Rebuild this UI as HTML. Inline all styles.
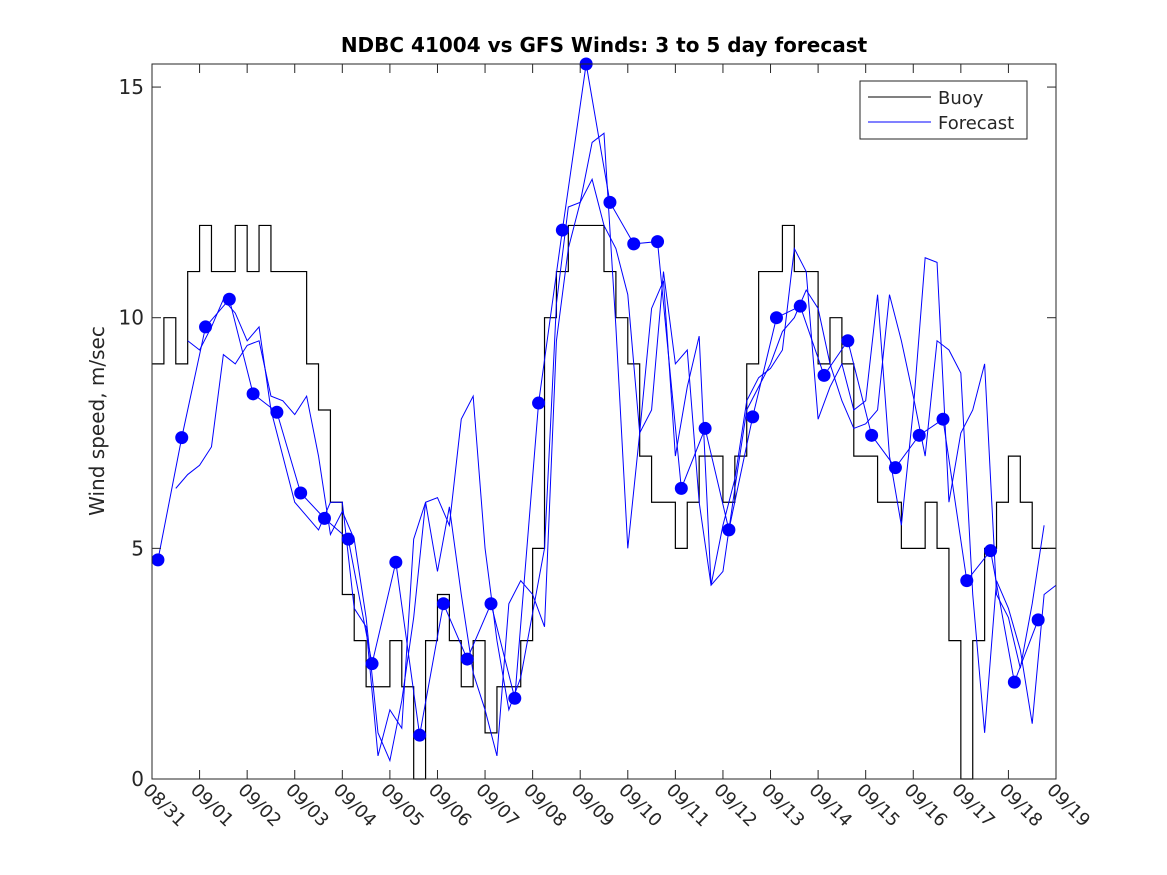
<!DOCTYPE html>
<html><head><meta charset="utf-8"><style>
body{margin:0;background:#fff}
svg{display:block;font-family:"DejaVu Sans","Liberation Sans",sans-serif}
</style></head><body>
<svg id="chart" width="1167" height="875">
<rect width="1167" height="875" fill="#fff"/>
<text x="604" y="52" text-anchor="middle" font-size="20" font-weight="bold">NDBC 41004 vs GFS Winds: 3 to 5 day forecast</text>
<text transform="translate(104,421) rotate(-90)" text-anchor="middle" font-size="20" fill="#262626">Wind speed, m/sec</text>
<g id="plot"></g>
<g id="axes"></g>
<g>
<rect x="860" y="81" width="167" height="58" fill="#fff" stroke="#262626" stroke-width="1"/>
<line x1="868" y1="97" x2="931" y2="97" stroke="#000"/>
<text x="938" y="104" font-size="18" fill="#262626">Buoy</text>
<line x1="868" y1="122" x2="931" y2="122" stroke="#00f"/>
<text x="938" y="129" font-size="18" fill="#262626">Forecast</text>
</g>
</svg>
<script>
const xTickLabels=["08/31","09/01","09/02","09/03","09/04","09/05","09/06","09/07","09/08","09/09","09/10","09/11","09/12","09/13","09/14","09/15","09/16","09/17","09/18","09/19"];
const yTicks=[0,5,10,15];
const dotStart=0.125, dotStep=0.5;
const dotValues=[4.75,7.4,9.8,10.4,8.35,7.95,6.2,5.65,5.2,2.5,4.7,0.95,3.8,2.6,3.8,1.75,8.15,11.9,15.5,12.5,11.6,11.65,6.3,7.6,5.4,7.85,10.0,10.25,8.75,9.5,7.45,6.75,7.45,7.8,4.3,4.95,2.1,3.45];
const buoyStep=0.25;
const buoyValues=[9,10,9,11, 12,11,11,12, 11,12,11,11, 11,9,8,6, 4,3,2,2, 3,2,0,3, 4,3,2,3, 1,2,2,3, 5,10,11,12, 12,12,11,10, 9,7,6,6, 5,6,7,7, 6,7,9,11, 11,12,11,11, 9,10,9,7, 7,6,6,5, 5,6,5,3, 0,3,5,6, 7,6,5,5];
const fcBStart=0.5, fcStep=0.25;
const fcB=[6.3,6.6,6.8,7.2,9.2,9.0,9.4,9.5,8.3,8.2,7.9,8.3,7.0,5.3,5.8,5.2,3.5,1.0,0.4,1.7,3.5,6.0,6.1,5.5,7.8,8.3,5.0,3.0,1.5,2.2,3.6,5.0,10.3,12.4,12.5,13.0,12.0,11.5,10.5,7.5,8.0,11.0,9.0,9.3,6.0,4.2,4.5,6.3,8.0,8.5,9.0,9.7,10.0,10.6,10.2,9.0,8.2,7.6,7.7,8.0,10.5,9.5,8.3,7.0,9.5,9.3,8.8,4.0,1.0,4.3,3.7,2.8,1.2,4.0,4.2];
const fcCStart=0.75;
const fcC=[9.5,9.3,9.8,10.4,10.1,9.5,9.8,8.0,7.0,6.0,5.7,5.4,6.0,6.0,3.7,3.3,0.5,1.5,1.1,5.2,6.0,4.5,5.9,4.0,2.3,1.5,0.5,3.8,4.3,4.0,3.3,9.5,11.5,12.5,13.8,14.0,9.8,5.0,7.5,10.2,10.8,7.0,8.5,9.6,4.2,5.5,6.5,8.2,8.7,8.9,9.3,11.5,11.0,7.8,8.5,9.0,8.0,8.2,10.5,7.0,5.5,8.0,11.3,11.2,6.0,7.5,8.0,9.0,4.0,3.5,2.4,3.8,5.5];
const L=152,R=1056,T=64,B=779;
const xs=d=>L+(R-L)*d/19;
const ys=v=>B-(B-T)*v/15.5;
const NS="http://www.w3.org/2000/svg";
const plot=document.getElementById('plot'),axes=document.getElementById('axes');
function mk(t,a,p){const e=document.createElementNS(NS,t);for(const k in a)e.setAttribute(k,a[k]);p.appendChild(e);return e;}
let d="";buoyValues.forEach((v,i)=>{const x0=xs(i*buoyStep),x1=xs((i+1)*buoyStep),y=ys(v);d+=(i?"L":"M")+x0+","+y+"L"+x1+","+y;});
const bl=mk('path',{d:d,fill:'none',stroke:'#000','stroke-width':1.2},plot);


function line(vals,start,step,name){const p=vals.map((v,i)=>xs(start+i*step)+","+ys(v)).join(" ");const e=mk('polyline',{points:p,fill:'none',stroke:'#00f','stroke-width':1},plot);

}
line(fcB,fcBStart,fcStep,'forecast-line-b');
line(fcC,fcCStart,fcStep,'forecast-line-c');
line(dotValues,dotStart,dotStep,'forecast-line-a');
dotValues.forEach((v,i)=>{const c=mk('circle',{cx:xs(dotStart+i*dotStep),cy:ys(v),r:6.5,fill:'#00f'},plot);

});
const fr=mk('rect',{x:L,y:T,width:R-L,height:B-T,fill:'none',stroke:'#262626','stroke-width':1},axes);


yTicks.forEach(v=>{const y=ys(v);mk('line',{x1:L,y1:y,x2:L+9,y2:y,stroke:'#262626'},axes);mk('line',{x1:R,y1:y,x2:R-9,y2:y,stroke:'#262626'},axes);
const t=mk('text',{x:L-8,y:y+7,'text-anchor':'end','font-size':20,fill:'#262626'},axes);t.textContent=v;

});
xTickLabels.forEach((s,i)=>{const x=xs(i);mk('line',{x1:x,y1:B,x2:x,y2:B-9,stroke:'#262626'},axes);mk('line',{x1:x,y1:T,x2:x,y2:T+9,stroke:'#262626'},axes);
const t=mk('text',{transform:`translate(${x-10},${B+12}) rotate(45)`,'font-size':18,fill:'#262626'},axes);t.textContent=s;

});
</script>
</body></html>
